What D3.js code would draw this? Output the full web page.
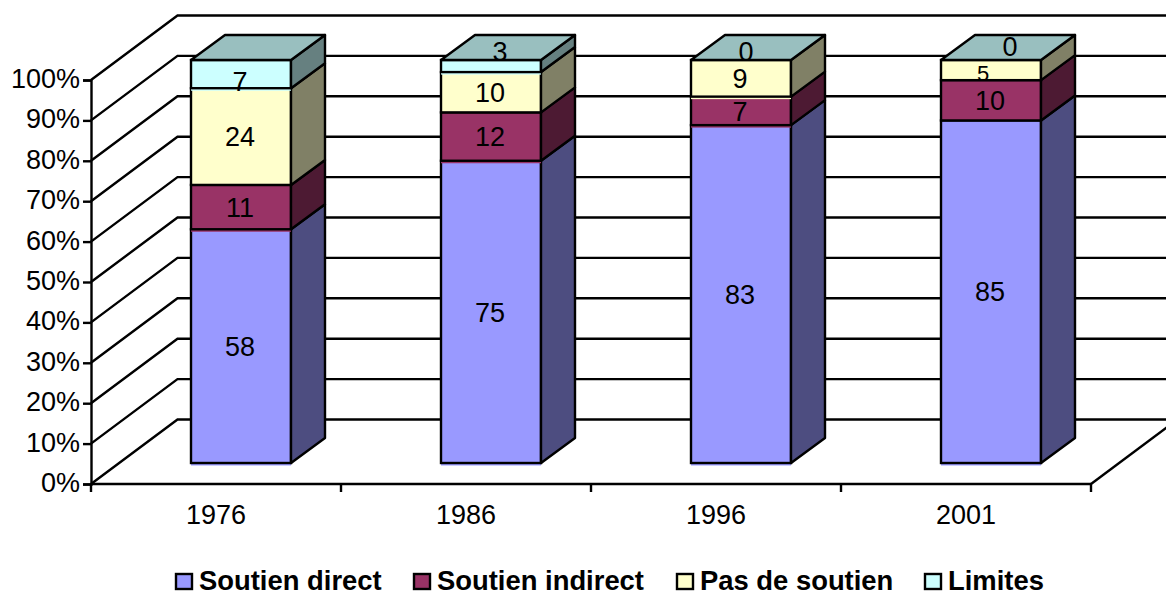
<!DOCTYPE html>
<html><head><meta charset="utf-8">
<script src="https://cdnjs.cloudflare.com/ajax/libs/d3/7.8.5/d3.min.js"></script>
<style>html,body{margin:0;background:#fff}svg{display:block}text{font-family:"Liberation Sans",Arial,sans-serif;fill:#000}</style>
</head><body><svg id="c" width="1166" height="592"></svg>
<script>
const categories = ["1976","1986","1996","2001"];
const seriesNames = ["Soutien direct","Soutien indirect","Pas de soutien","Limites"];
const soutienDirect = [58,75,83,85];
const soutienIndirect = [11,12,7,10];
const pasDeSoutien = [24,10,9,5];
const limites = [7,3,0,0];
const seriesValues = [soutienDirect,soutienIndirect,pasDeSoutien,limites];
const faceColors = ["#9999ff","#993366","#ffffcc","#ccffff"];
const sideColors = ["#4d4d80","#4d1a33","#808066","#668080"];
const topColor = "#99bfbf";
const yTicks = [0,.1,.2,.3,.4,.5,.6,.7,.8,.9,1];

const svg = d3.select("#c");
const FS = 27, SW = 2.4;
const x = d3.scaleBand().domain(categories).range([91,1091]);
const yAxisS = d3.scaleLinear().domain([0,1]).range([484,80]);
const yFront = d3.scaleLinear().domain([0,1]).range([463,60]);
const wallDx = 86.5, wallDy = -64.5;
const barOffset = 100, barW = 100, depthX = 34, depthY = -25;
const line = d3.line();

// walls: gridlines
const grid = svg.append("g").attr("fill","none").attr("stroke","#000").attr("stroke-width",SW);
yTicks.forEach(t=>{
  const y0=yAxisS(t);
  grid.append("path").attr("d",line([[91,y0],[91+wallDx,y0+wallDy],[1191,y0+wallDy]]));
});
grid.append("path").attr("d",line([[1091,484],[1091+wallDx,484+wallDy]]));

// axes
const axL = d3.axisLeft(yAxisS).tickValues(yTicks).tickFormat(d3.format(".0%")).tickSize(8).tickPadding(3);
const gL = svg.append("g").attr("transform","translate(91,0)").call(axL);
gL.selectAll("line,path").attr("stroke","#000").attr("stroke-width",SW);
gL.selectAll("text").attr("font-size",FS).style("font-family",'"Liberation Sans"').attr("dy","0.28em");
const axB = d3.axisBottom(x).tickSize(0).tickPadding(21);
const gB = svg.append("g").attr("transform","translate(0,484)").call(axB);
gB.select("path").attr("stroke","#000").attr("stroke-width",SW).attr("d","M91,0H1091");
gB.selectAll("text").attr("font-size",FS).style("font-family",'"Liberation Sans"');
gB.selectAll("line.edge").data([...categories.map(c=>x(c)),x(categories[3])+x.bandwidth()]).enter()
  .append("line").attr("class","edge").attr("x1",d=>d).attr("x2",d=>d).attr("y1",0).attr("y2",8).attr("stroke","#000").attr("stroke-width",SW);

// bars
const table = categories.map((c,i)=>{const o={cat:c};seriesNames.forEach((s,j)=>o[s]=seriesValues[j][i]);return o;});
const stacked = d3.stack().keys(seriesNames).offset(d3.stackOffsetExpand)(table);
const labelNudge = {"1976|3":[0,7],"1986|3":[10,-15],"1996|3":[6,-9],"2001|3":[20,-14],"2001|2":[-7,3]};
const noFringe = new Set(["1976|2","1986|2","2001|1","2001|2"]);
const labels = [];
categories.forEach((c,i)=>{
  const g = svg.append("g");
  const X0 = x(c)+barOffset, X1 = X0+barW;
  stacked.forEach((s,j)=>{
    const v = seriesValues[j][i];
    const yB = yFront(s[i][0]), yT = yFront(s[i][1]);
    if(v>0){
      g.append("rect").attr("x",X0).attr("y",yT).attr("width",barW)
        .attr("height",yB-yT+(noFringe.has(c+"|"+j)?0:2.5)).attr("fill",faceColors[j]);
      g.append("rect").attr("x",X0).attr("y",yT).attr("width",barW).attr("height",yB-yT)
        .attr("fill","none").attr("stroke","#000").attr("stroke-width",SW);
      g.append("path").attr("d",line([[X1,yB],[X1+depthX,yB+depthY],[X1+depthX,yT+depthY],[X1,yT]])+"Z")
        .attr("fill",sideColors[j]).attr("stroke","#000").attr("stroke-width",SW).attr("stroke-linejoin","round");
    }
    const n = labelNudge[c+"|"+j]||[0,0];
    labels.push({t:v,x:X0+barW/2-1+n[0],y:(yB+yT)/2+n[1],small:c==="2001"&&j===2});
  });
  const yTop = yFront(1);
  g.append("path").attr("d",line([[X0,yTop],[X0+depthX,yTop+depthY],[X1+depthX,yTop+depthY],[X1,yTop]])+"Z")
    .attr("fill",topColor).attr("stroke","#000").attr("stroke-width",SW).attr("stroke-linejoin","round");
});
svg.append("g").selectAll("text").data(labels).enter().append("text")
  .attr("x",d=>d.x).attr("y",d=>d.y).attr("dy","0.36em").attr("text-anchor","middle")
  .attr("font-size",d=>d.small?22:FS).text(d=>d.t);

// legend
const legendX = [176,414,677,925];
const lg = svg.append("g").selectAll("g").data(seriesNames).enter().append("g")
  .attr("transform",(d,i)=>`translate(${legendX[i]},574)`);
lg.append("rect").attr("width",16).attr("height",15).attr("fill",(d,i)=>faceColors[i]).attr("stroke","#000").attr("stroke-width",SW);
lg.append("text").attr("x",23).attr("y",16).attr("font-size",27.4).attr("font-weight","bold").text(d=>d);
</script></body></html>
